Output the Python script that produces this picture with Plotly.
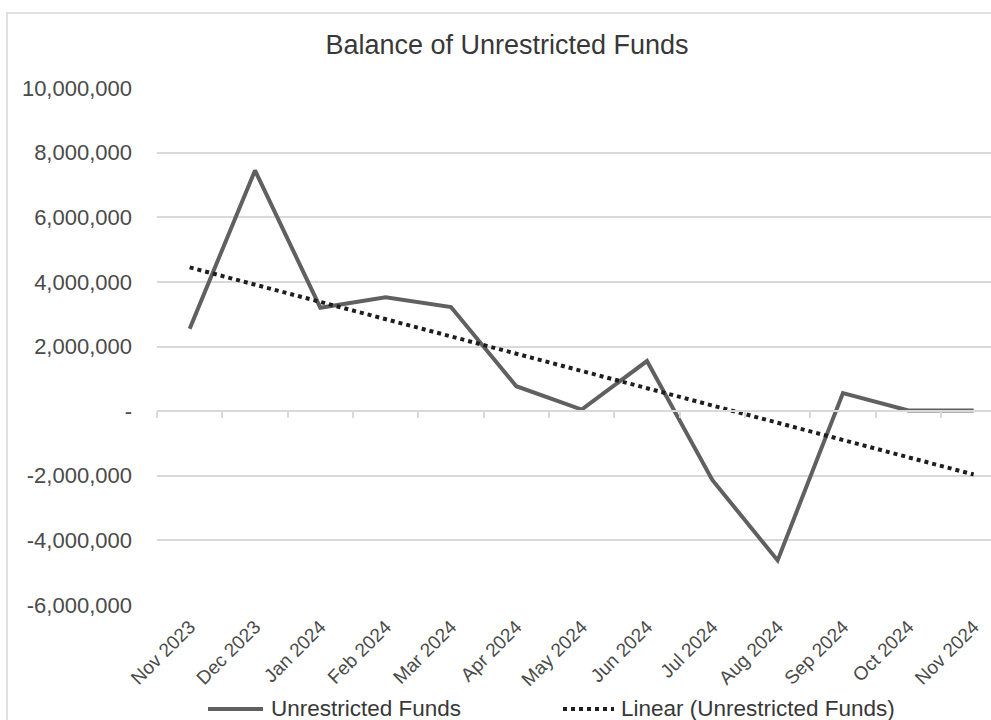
import numpy as np
import plotly.graph_objects as go

# ---- data -------------------------------------------------------------
months = ["Nov 2023", "Dec 2023", "Jan 2024", "Feb 2024", "Mar 2024", "Apr 2024",
          "May 2024", "Jun 2024", "Jul 2024", "Aug 2024", "Sep 2024", "Oct 2024",
          "Nov 2024"]
unrestricted_funds = [2550000, 7450000, 3200000, 3520000, 3220000, 770000,
                      50000, 1550000, -2130000, -4620000, 560000, 20000, 20000]

y_tick_values = [-6000000, -4000000, -2000000, 0, 2000000, 4000000,
                 6000000, 8000000, 10000000]
y_tick_labels = ["-6,000,000", "-4,000,000", "-2,000,000", "-", "2,000,000",
                 "4,000,000", "6,000,000", "8,000,000", "10,000,000"]

series_name = "Unrestricted Funds"
trend_name = "Linear (Unrestricted Funds)"
title_text = "Balance of Unrestricted Funds"

# ---- derived ----------------------------------------------------------
idx = np.arange(len(months))
slope, intercept = np.polyfit(idx, unrestricted_funds, 1)
trend = slope * idx + intercept

# ---- layout geometry (pixels) ----------------------------------------
W, H = 991, 720
PL, PT, PB = 157, 88, 605          # plot-area left / top / bottom
PR = W                             # plot area runs to the right edge
band = 65.33                       # width of one category band
x_range = [-0.5, -0.5 + (PR - PL) / band]
y_range = [y_tick_values[0], y_tick_values[-1]]
zero_pos = (0 - y_range[0]) / (y_range[1] - y_range[0])


def px(x):
    return (x - PL) / (PR - PL)


def py(y):
    return (PB - y) / (PB - PT)


FONT = "Liberation Sans, Arial, sans-serif"
LINE_COLOR = "#606060"
TREND_COLOR = "#1e1e1e"
GRID = "#d9d9d9"
TICK_TEXT = "#4a4a4a"
DARK_TEXT = "#383838"

fig = go.Figure()

fig.add_trace(go.Scatter(
    x=idx, y=unrestricted_funds, name=series_name, mode="lines",
    line=dict(color=LINE_COLOR, width=4), xaxis="x", yaxis="y",
))
fig.add_trace(go.Scatter(
    x=idx, y=trend, name=trend_name, mode="lines",
    line=dict(color=TREND_COLOR, width=4, dash="dot"), xaxis="x2", yaxis="y",
))

boundaries = [i - 0.5 for i in range(len(months) + 1)]

fig.update_layout(
    width=W, height=H,
    margin=dict(l=PL, r=W - PR, t=PT, b=H - PB, pad=0),
    paper_bgcolor="white", plot_bgcolor="white",
    showlegend=False,
    font=dict(family=FONT, color=TICK_TEXT),
    title=dict(text=title_text, xref="container", yref="container",
               x=507 / W, y=1 - 45 / H, xanchor="center", yanchor="middle",
               font=dict(family=FONT, size=27, color=DARK_TEXT)),
    xaxis=dict(
        range=x_range, tickmode="array", tickvals=idx, ticktext=months,
        tickangle=-45, tickfont=dict(size=19, color=TICK_TEXT),
        showgrid=False, zeroline=False, showline=False, ticks="",
        ticklabelstandoff=6,
    ),
    # horizontal axis line drawn through zero, with category tick marks
    xaxis2=dict(
        range=x_range, overlaying="x", anchor="free", position=zero_pos,
        tickmode="array", tickvals=boundaries, showticklabels=False,
        ticks="outside", ticklen=6, tickwidth=1.5, tickcolor=GRID,
        showline=True, linecolor=GRID, linewidth=1.5,
        showgrid=False, zeroline=False,
    ),
    xaxis3=dict(
        range=x_range, overlaying="x", anchor="free", position=zero_pos,
        tickmode="array", tickvals=boundaries, showticklabels=False,
        ticks="inside", ticklen=7, tickwidth=1.5, tickcolor=GRID,
        showline=False, showgrid=False, zeroline=False,
    ),
    yaxis=dict(
        range=y_range, tickmode="array", tickvals=y_tick_values,
        ticktext=y_tick_labels, tickfont=dict(size=22, color=TICK_TEXT),
        showgrid=True, gridcolor=GRID, gridwidth=1.5,
        zeroline=False, showline=False, ticks="",
        ticklabelstandoff=24,
    ),
)

# chart-area border
fig.add_shape(type="rect", xref="paper", yref="paper",
              x0=px(7), x1=px(W + 20), y0=py(H + 20), y1=py(13),
              line=dict(color="#d6d6d6", width=1.5), fillcolor="rgba(0,0,0,0)",
              layer="below")

# legend
legend_y = 708
fig.add_shape(type="line", xref="paper", yref="paper",
              x0=px(208), x1=px(263), y0=py(legend_y + 1), y1=py(legend_y + 1),
              line=dict(color=LINE_COLOR, width=4))
fig.add_annotation(text=series_name, xref="paper", yref="paper",
                   x=px(269), y=py(legend_y), xanchor="left", yanchor="middle",
                   showarrow=False, font=dict(size=22.5, color=DARK_TEXT))
fig.add_shape(type="line", xref="paper", yref="paper",
              x0=px(563), x1=px(614), y0=py(legend_y + 1), y1=py(legend_y + 1),
              line=dict(color=TREND_COLOR, width=4, dash="dot"))
fig.add_annotation(text=trend_name, xref="paper", yref="paper",
                   x=px(619), y=py(legend_y), xanchor="left", yanchor="middle",
                   showarrow=False, font=dict(size=22.5, color=DARK_TEXT))

fig.write_html("out.html")
